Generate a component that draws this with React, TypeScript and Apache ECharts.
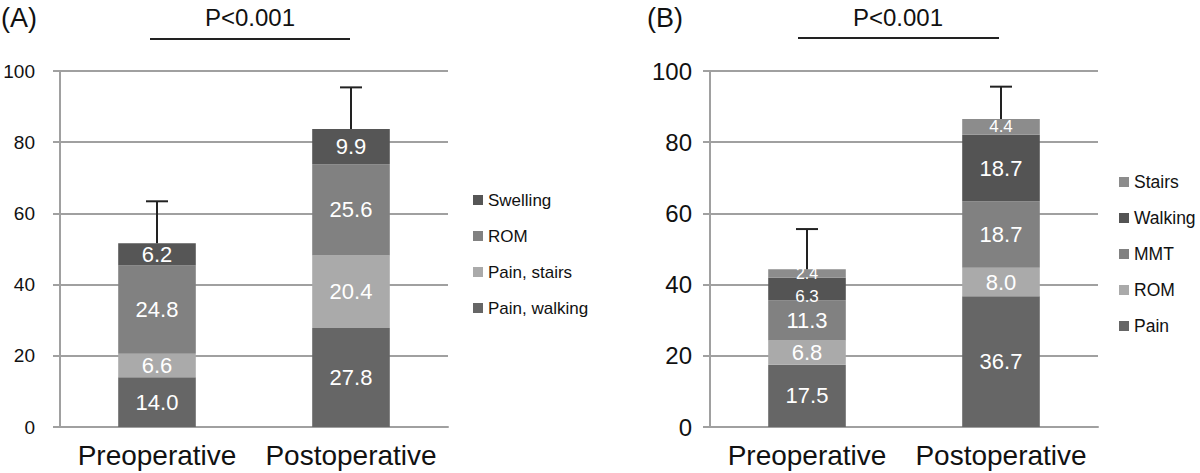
import React, { useEffect, useRef } from "react";
import * as echarts from "echarts";

const categories = ["Preoperative", "Postoperative"];

// Panel A (stack order bottom -> top)
const seriesNamesA = ["Pain, walking", "Pain, stairs", "ROM", "Swelling"];
const painWalkingA = [14.0, 27.8];
const painStairsA = [6.6, 20.4];
const romA = [24.8, 25.6];
const swellingA = [6.2, 9.9];
const errorA = [11.8, 11.7];
const legendOrderA = ["Swelling", "ROM", "Pain, stairs", "Pain, walking"];

// Panel B (stack order bottom -> top)
const seriesNamesB = ["Pain", "ROM", "MMT", "Walking", "Stairs"];
const painB = [17.5, 36.7];
const romB = [6.8, 8.0];
const mmtB = [11.3, 18.7];
const walkingB = [6.3, 18.7];
const stairsB = [2.4, 4.4];
const errorB = [11.3, 9.1];
const legendOrderB = ["Stairs", "Walking", "MMT", "ROM", "Pain"];

const yTicks = [0, 20, 40, 60, 80, 100];
const pText = "P<0.001";

const colorsA = ["#666666", "#aaaaaa", "#818181", "#565656"];
const colorsB = ["#666666", "#aaaaaa", "#818181", "#545454", "#8c8c8c"];

// small vertical label nudges (series name | category index -> px), label styling only
const labelNudgeB: Record<string, number> = { "Walking|0": 7, "Stairs|0": 0 };

const FONT = "'Liberation Sans', Arial, Helvetica, sans-serif";
const SUFFIX_B = "\u200b";

export default function App() {
  const ref = useRef<HTMLDivElement>(null);

  useEffect(() => {
    if (!ref.current) return;
    const chart = echarts.init(ref.current, undefined, { renderer: "svg" });

    const dataA = [painWalkingA, painStairsA, romA, swellingA];
    const dataB = [painB, romB, mmtB, walkingB, stairsB];

    const totalsA = categories.map((_, i) => dataA.reduce((s, arr) => s + arr[i], 0));
    const totalsB = categories.map((_, i) => dataB.reduce((s, arr) => s + arr[i], 0));

    const gridLine = { lineStyle: { color: "#a0a0a0", width: 2 } };

    const makeX = (gridIndex: number) => ({
      type: "category",
      gridIndex,
      data: categories,
      axisLine: { show: true, lineStyle: { color: "#a0a0a0", width: 2 } },
      axisTick: { show: false },
      axisLabel: { color: "#111", fontSize: 28, fontFamily: FONT, margin: 14, interval: 0, hideOverlap: false },
    });
    const makeY = (gridIndex: number, margin: number, fontSize: number) => ({
      type: "value",
      gridIndex,
      min: yTicks[0],
      max: yTicks[yTicks.length - 1],
      interval: 20,
      axisLine: { show: true, lineStyle: { color: "#a0a0a0", width: 2 } },
      axisTick: { show: true, length: 7, lineStyle: { color: "#a0a0a0", width: 2 } },
      axisLabel: { color: "#111", fontSize, fontFamily: FONT, margin },
      splitLine: { show: true, ...gridLine },
    });

    const barSeries = (
      names: string[],
      data: number[][],
      colors: string[],
      axisIndex: number,
      stack: string,
      suffix: string,
      smallBelow: number,
      nudge: Record<string, number>
    ) =>
      names.map((name, k) => ({
        type: "bar",
        name: name + suffix,
        stack,
        xAxisIndex: axisIndex,
        yAxisIndex: axisIndex,
        barWidth: "40%",
        data: data[k].map((v, i) => ({
          value: v,
          label: {
            fontSize: v < 3 ? 16 : v < smallBelow ? 17 : 22,
            offset: [0, nudge[name + "|" + i] || 0],
          },
        })),
        itemStyle: { color: colors[k] },
        label: {
          show: true,
          position: "inside",
          color: "#ffffff",
          fontSize: 22,
          fontFamily: FONT,
          formatter: (p: any) => Number(p.value).toFixed(1),
        },
      }));

    const errSeries = (totals: number[], errs: number[], axisIndex: number) => ({
      type: "custom",
      xAxisIndex: axisIndex,
      yAxisIndex: axisIndex,
      data: totals.map((t, i) => [i, t, errs[i]]),
      renderItem: (params: any, api: any) => {
        const x = api.value(0);
        const t = api.value(1);
        const e = api.value(2);
        const base = api.coord([x, t]);
        const top = api.coord([x, t + e]);
        const half = 11;
        return {
          type: "group",
          children: [
            { type: "line", shape: { x1: base[0], y1: base[1], x2: top[0], y2: top[1] }, style: { stroke: "#222", lineWidth: 2 } },
            { type: "line", shape: { x1: top[0] - half, y1: top[1], x2: top[0] + half, y2: top[1] }, style: { stroke: "#222", lineWidth: 2 } },
          ],
        };
      },
      z: 5,
    });

    const legendCommon = {
      orient: "vertical",
      icon: "rect",
      itemWidth: 10,
      itemHeight: 10,
      itemGap: 18,
      selectedMode: false,
    };

    const option: any = {
      animation: false,
      backgroundColor: "#ffffff",
      grid: [
        { left: 60, top: 71, width: 388, height: 356 },
        { left: 710, top: 71, width: 388, height: 356 },
      ],
      xAxis: [makeX(0), makeX(1)],
      yAxis: [makeY(0, 25, 19), makeY(1, 18, 24)],
      legend: [
        {
          ...legendCommon,
          left: 468,
          top: 186,
          data: legendOrderA,
          textStyle: { color: "#111", fontSize: 17, fontFamily: FONT, lineHeight: 18 },
        },
        {
          ...legendCommon,
          left: 1114,
          top: 168,
          data: legendOrderB.map((n) => n + SUFFIX_B),
          formatter: (n: string) => n.replace(SUFFIX_B, ""),
          textStyle: { color: "#111", fontSize: 17.5, fontFamily: FONT, lineHeight: 18 },
        },
      ],
      series: [
        ...barSeries(seriesNamesA, dataA, colorsA, 0, "A", "", 0, {}),
        errSeries(totalsA, errorA, 0),
        ...barSeries(seriesNamesB, dataB, colorsB, 1, "B", SUFFIX_B, 6.5, labelNudgeB),
        errSeries(totalsB, errorB, 1),
      ],
      graphic: [
        { type: "text", left: 1, top: 4, style: { text: "(A)", fontSize: 27, fontFamily: FONT, fill: "#111" } },
        { type: "text", left: 647, top: 4, style: { text: "(B)", fontSize: 27, fontFamily: FONT, fill: "#111" } },
        { type: "text", x: 250, y: 17, style: { text: pText, fontSize: 24, fontFamily: FONT, fill: "#111", align: "center", verticalAlign: "middle" } },
        { type: "text", x: 898, y: 17, style: { text: pText, fontSize: 24, fontFamily: FONT, fill: "#111", align: "center", verticalAlign: "middle" } },
        { type: "line", shape: { x1: 150, y1: 39, x2: 350, y2: 39 }, style: { stroke: "#222", lineWidth: 2 } },
        { type: "line", shape: { x1: 798, y1: 38, x2: 999, y2: 38 }, style: { stroke: "#222", lineWidth: 2 } },
      ],
    };

    chart.setOption(option);
    return () => chart.dispose();
  }, []);

  return <div ref={ref} style={{ position: "fixed", left: 0, top: 0, width: 1200, height: 473 }} />;
}
